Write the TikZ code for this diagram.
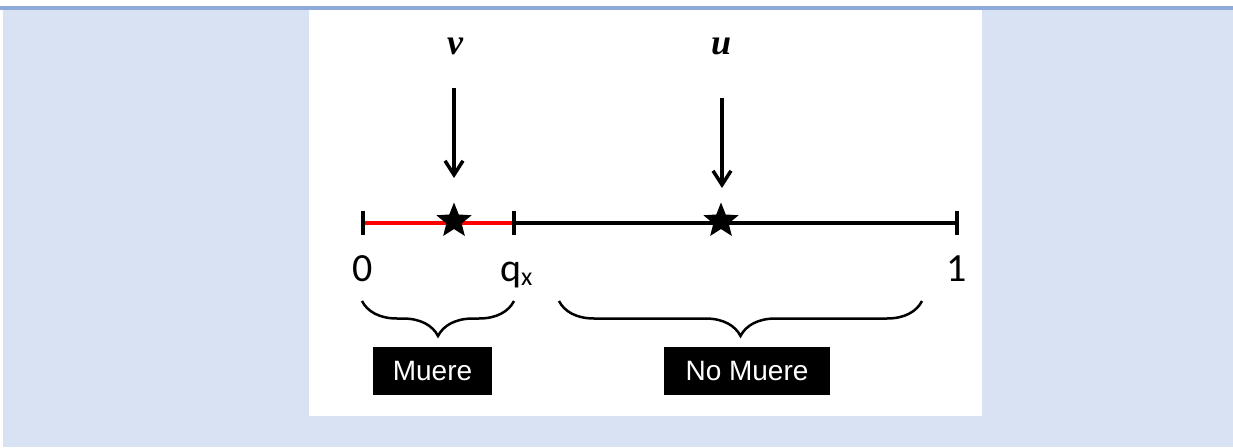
\documentclass[tikz,border=0pt]{standalone}
\usepackage{fontspec}
\setmainfont{Liberation Sans}
\newfontfamily\calib{Carlito}
\newfontfamily\serifbi{Liberation Serif}
\usetikzlibrary{arrows.meta,shapes.geometric,decorations.pathreplacing}
\definecolor{bgblue}{HTML}{D9E2F3}
\definecolor{lineblue}{HTML}{8EAADB}
\definecolor{redline}{HTML}{FF0000}
\tikzset{
  axis/.style={line width=4.5pt},
  tickmark/.style={line width=4.5pt},
  pointer/.style={line width=3.5pt,-{Straight Barb[length=14pt,width=18pt]}},
  starmark/.style={star,star points=5,star point ratio=2.3,minimum size=37pt,inner sep=0pt,fill=black,draw=none},
  numlbl/.style={font=\calib\fontsize{40}{44}\selectfont,inner sep=0pt,anchor=base},
  varlbl/.style={font=\serifbi\bfseries\itshape\fontsize{36}{40}\selectfont,inner sep=0pt},
  bracedraw/.style={line width=2.5pt,decorate,decoration={brace,mirror,amplitude=35pt}},
  blackbox/.style={fill=black,text=white,font=\fontsize{28}{32}\selectfont,inner sep=0pt,minimum height=48pt}
}
\begin{document}
\begin{tikzpicture}[x=1pt,y=-1pt]
\useasboundingbox (0,0) rectangle (1233,447);
\fill[white] (0,0) rectangle (1233,447);
\fill[bgblue] (3,9) rectangle (1233,447);
\fill[lineblue] (0,6) rectangle (1233,9.5);
\fill[white] (309,10) rectangle (982,416);
% coordinates
\coordinate (z) at (363,223);
\coordinate (q) at (514,223);
\coordinate (o) at (957,223);
% axis
\draw[axis,redline] (z) -- (q);
\draw[axis] (q) -- (o);
\draw[tickmark] (363,211) -- (363,235);
\draw[tickmark] (514,211) -- (514,235);
\draw[tickmark] (957,211) -- (957,235);
% stars
\node[starmark] (sv) at (454,221) {};
\node[starmark] (su) at (721,221) {};
% labels v and u
\node[varlbl] (v) at (455,46) {v};
\node[varlbl] (u) at (721,46) {u};
\coordinate (va) at (454,88);
\coordinate (vb) at (454,178);
\coordinate (ua) at (722,98);
\coordinate (ub) at (722,188);
\draw[pointer] (va) -- (vb);
\draw[pointer] (ua) -- (ub);
% numbers
\node[numlbl] (n0) at (363,281) {0};
\node[numlbl,anchor=base west] (nq) at (500,281) {q\raisebox{-4pt}{\fontsize{26}{28}\selectfont x}};
\node[numlbl] (n1) at (957,281) {1};
% braces
\coordinate (b1a) at (362,301);
\coordinate (b1b) at (514,301);
\coordinate (b2a) at (559,301);
\coordinate (b2b) at (922,301);
\draw[bracedraw] (b1a) -- (b1b);
\draw[bracedraw] (b2a) -- (b2b);
% boxes
\node[blackbox,minimum width=119pt] (m1) at (432.5,371) {Muere};
\node[blackbox,minimum width=166pt] (m2) at (747,371) {No Muere};
\end{tikzpicture}
\end{document}
